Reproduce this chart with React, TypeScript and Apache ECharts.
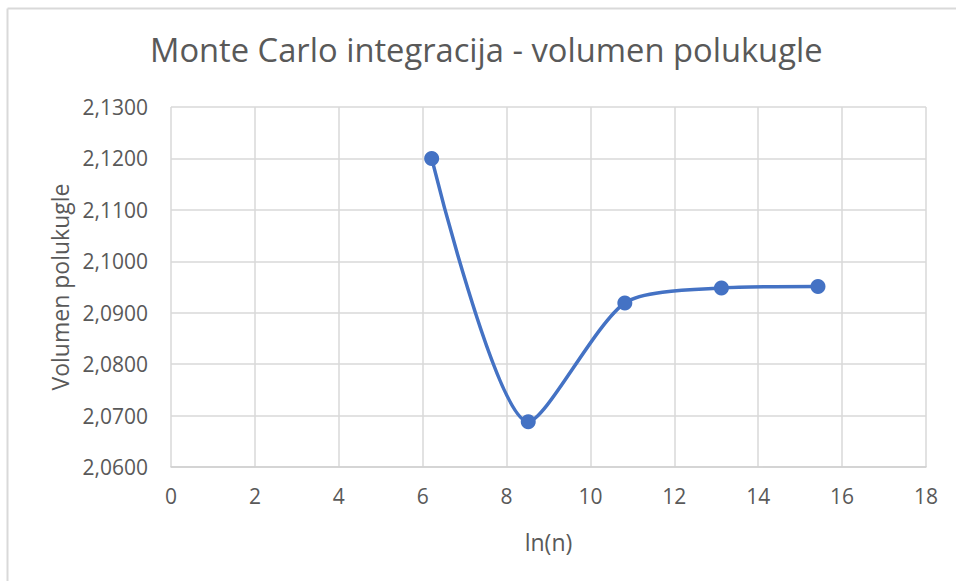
import React, { useEffect, useRef } from "react";
import * as echarts from "echarts";

const lnN: number[] = [6.2146, 8.5172, 10.8198, 13.1224, 15.4249];
const volumen: number[] = [2.12, 2.0688, 2.0919, 2.0948, 2.0951];
const titleText = "Monte Carlo integracija - volumen polukugle";
const xName = "ln(n)";
const yName = "Volumen polukugle";

export default function App() {
  const ref = useRef<HTMLDivElement>(null);
  useEffect(() => {
    if (!ref.current) return;
    const chart = echarts.init(ref.current, null, { renderer: "svg" });
    const font = "'Open Sans', 'Noto Sans', sans-serif";
    chart.setOption({
      animation: false,
      backgroundColor: "#ffffff",
      title: {
        text: titleText,
        left: 145,
        top: 28,
        textStyle: { fontFamily: font, fontSize: 32.7, fontWeight: "normal", color: "#595959" },
      },
      graphic: [
        { type: "line", shape: { x1: 7.5, y1: 8.5, x2: 7.5, y2: 581 }, style: { stroke: "#d9d9d9", lineWidth: 2 } },
        { type: "line", shape: { x1: 7.5, y1: 8.5, x2: 956, y2: 8.5 }, style: { stroke: "#d9d9d9", lineWidth: 2 } },
      ],
      grid: { left: 171, right: 30, top: 107, bottom: 114 },
      xAxis: {
        type: "value",
        min: 0,
        max: 18,
        interval: 2,
        name: xName,
        nameLocation: "middle",
        nameGap: 63,
        nameTextStyle: { fontFamily: font, fontSize: 23, color: "#595959" },
        axisLine: { show: true, lineStyle: { color: "#d0d0d0", width: 1.5 } },
        axisTick: { show: false },
        splitLine: { show: true, lineStyle: { color: "#d9d9d9", width: 1.5 } },
        axisLabel: { fontFamily: font, fontSize: 21, color: "#595959", margin: 18 },
      },
      yAxis: {
        type: "value",
        min: 2.06,
        max: 2.13,
        interval: 0.01,
        name: yName,
        nameLocation: "middle",
        nameGap: 98,
        nameTextStyle: { fontFamily: font, fontSize: 23, color: "#595959" },
        axisLine: { show: false },
        axisTick: { show: false },
        splitLine: { show: true, lineStyle: { color: "#d9d9d9", width: 1.5 } },
        axisLabel: {
          fontFamily: font,
          fontSize: 21,
          color: "#595959",
          margin: 23,
          formatter: (v: number) => v.toFixed(4).replace(".", ","),
        },
      },
      series: [
        {
          type: "line",
          data: lnN.map((x, i) => [x, volumen[i]]),
          smooth: 0.25,
          symbol: "circle",
          symbolSize: 15,
          lineStyle: { color: "#4472c4", width: 3.5 },
          itemStyle: { color: "#4472c4" },
        },
      ],
    });
    return () => chart.dispose();
  }, []);
  return (
    <div
      ref={ref}
      style={{ position: "fixed", left: 0, top: 0, width: 956, height: 581 }}
    />
  );
}
